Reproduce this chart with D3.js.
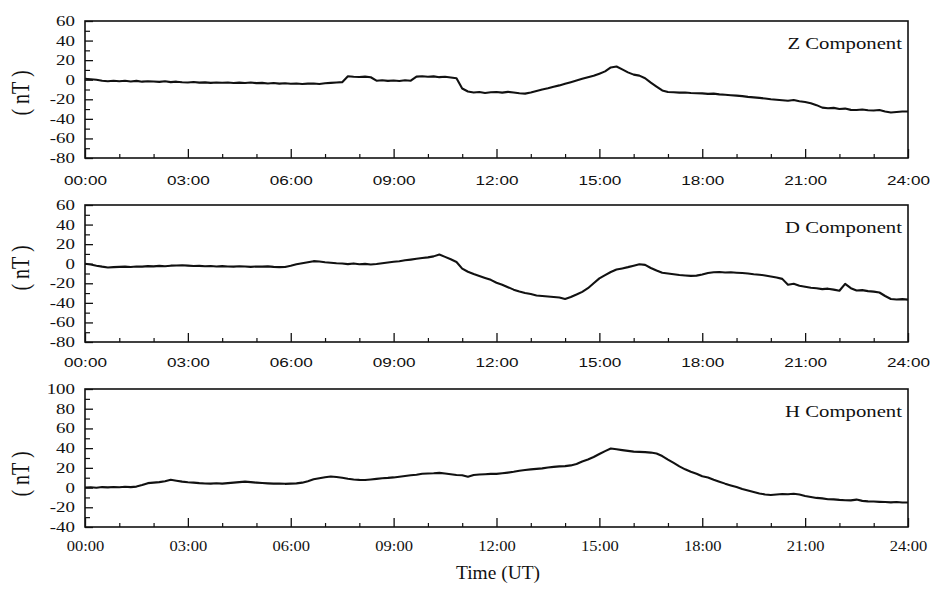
<!DOCTYPE html>
<html>
<head>
<meta charset="utf-8">
<script src="https://cdn.jsdelivr.net/npm/d3@7"></script>
<style>
  html, body { margin: 0; padding: 0; background: #fff; }
  svg { display: block; }
</style>
</head>
<body>
<svg id="chart" width="934" height="590"></svg>
<script>
// ---------- DATA (10-minute samples, 00:00 .. 24:00) ----------
const sampleHours = d3.range(0, 145).map(i => i / 6);

const zValues = [
  1, 0.5, 0, -1, -1.5, -1,
  -1.5, -1, -1.8, -1.2, -2, -1.5,
  -1.8, -2.2, -1.6, -2.5, -2, -2.6,
  -2.8, -2.4, -3, -2.7, -3.2, -2.8,
  -3.1, -2.9, -3.4, -3, -3.3, -2.9,
  -3.5, -3.2, -3.8, -3.4, -4, -3.6,
  -4.2, -3.9, -4.4, -4, -3.8, -4.3,
  -3.6, -3.2, -2.8, -2.5, 3.5, 3,
  2.8, 3.2, 2.5, -1, -0.5, -1.2,
  -0.8, -1.3, -0.6, -1, 3.2, 3.5,
  3, 3.4, 2.6, 3, 2.2, 1.5,
  -9, -12, -13, -12.5, -13.5, -12.8,
  -12.6, -13.2, -12.4, -13, -13.8, -14.2,
  -13, -11.5, -10, -8.8, -7.2, -5.8,
  -4.2, -2.5, -0.8, 1, 2.5, 4,
  6.2, 8.5, 12.5, 13.5, 10.5, 7.5,
  5.2, 4.2, 1.5, -3, -7, -11,
  -12.5, -12.8, -13.2, -13, -13.5, -13.8,
  -14, -14.5, -14.2, -15, -15.3, -15.8,
  -16.3, -16.8, -17.5, -18, -18.6, -19.2,
  -20, -20.5, -21, -21.5, -20.8, -22,
  -22.7, -24, -26, -28.5, -29.2, -28.8,
  -30, -29.5, -30.8, -31, -30.5, -31.2,
  -31.4, -31, -32.5, -33.5, -33, -32.5,
  -32.5
];

const dValues = [
  0, -0.8, -2, -3, -3.8, -3.5,
  -3.2, -3, -3.4, -2.8, -3, -2.5,
  -2.7, -2.2, -2.6, -2, -1.8, -1.5,
  -2, -2.4, -2.2, -2.6, -2.3, -2.8,
  -2.5, -2.8, -3, -2.6, -2.9, -3.2,
  -2.8, -3, -2.7, -3.2, -3.5, -3.3,
  -2, -0.5, 0.5, 1.5, 2.6, 2.2,
  1.5, 1, 0.5, 0.2, -0.4, 0.3,
  -0.5, -0.2, -0.8, -0.3, 0.5, 1.2,
  2, 2.5, 3.5, 4.2, 5, 5.8,
  6.5, 7.5, 9.4, 7, 4.5, 1.8,
  -5, -8.2, -10.5, -12.5, -14.5, -16.5,
  -19.5, -21.5, -24, -26.5, -28.5, -30,
  -31, -32.5, -33, -33.5, -34, -34.5,
  -36, -34, -31.5, -28.8, -25, -20,
  -15, -11.7, -8.5, -6, -4.8, -3.5,
  -2, -0.5, -1.2, -4.4, -7, -9.3,
  -10, -10.8, -11.5, -12, -12.4, -12.2,
  -11, -9.5, -8.7, -8.5, -9, -8.8,
  -9.2, -9.5, -10, -10.7, -11.2, -12,
  -13, -14, -15.5, -21.5, -20.5, -22.5,
  -23.5, -24.5, -25, -26, -25.5, -26.5,
  -27.6, -20.6, -25, -27.4, -27, -28,
  -28.5, -29.4, -33, -36, -36.5, -36.2,
  -36.7
];

const hValues = [
  0, 0.3, -0.2, 0.5, 0.2, 0.6,
  0.3, 0.8, 0.5, 1, 2.5, 4.5,
  5, 5.5, 6.5, 7.9, 7, 6,
  5.4, 5, 4.5, 4.2, 4, 4.4,
  4, 4.5, 5, 5.5, 6, 5.5,
  5, 4.6, 4.3, 4, 4.2, 3.8,
  4, 4.3, 5, 6.5, 8.4, 9.5,
  10.5, 11.3, 10.8, 10, 9, 8.2,
  7.8, 7.7, 8.2, 8.8, 9.5, 9.8,
  10.3, 11, 11.8, 12.5, 13, 14,
  14.3, 14.5, 14.9, 14.2, 13.5, 12.8,
  12.5, 11, 12.8, 13.2, 13.5, 13.9,
  13.9, 14.5, 15.2, 16, 17, 17.8,
  18.5, 19, 19.5, 20.4, 21, 21.5,
  21.8, 22.5, 24, 26.5, 28.5, 31,
  34, 37, 39.6, 38.8, 38, 37.2,
  36.5, 36.2, 36, 35.5, 34.5, 32,
  28.4, 25, 21.5, 18.5, 16, 14,
  11.5, 10.3, 8, 6, 4, 2.2,
  0.5, -1.5, -3, -4.5, -6, -7,
  -7.5, -7, -6.5, -6.8, -6.2, -7,
  -8.5, -9.5, -10.5, -11, -11.8, -12,
  -12.5, -12.8, -13, -12.2, -13.5, -14,
  -14.2, -14.5, -14.7, -15, -14.6, -15.2,
  -15.2
];

const majorHours = [0, 3, 6, 9, 12, 15, 18, 21, 24];
const timeLabels = ["00:00", "03:00", "06:00", "09:00", "12:00", "15:00", "18:00", "21:00", "24:00"];
const minorHours = d3.range(0, 25).filter(h => h % 3 !== 0);

const panelNames = ["Z Component", "D Component", "H Component"];
const zTicks = [60, 40, 20, 0, -20, -40, -60, -80];
const dTicks = [60, 40, 20, 0, -20, -40, -60, -80];
const hTicks = [100, 80, 60, 40, 20, 0, -20, -40];
const unitLabel = "( nT )";
const xTitle = "Time (UT)";

// ---------- LAYOUT ----------
const svg = d3.select("#chart");
const left = 85, right = 908;
const x = d3.scaleLinear().domain([0, 24]).range([left, right]);

const panels = [
  { name: panelNames[0], values: zValues, ticks: zTicks, domain: [-80, 60], top: 21, bottom: 158,
    unitY: 93, labelFont: "'Liberation Sans', Arial, sans-serif", labelSize: 13, labelScale: 1.32, labelPad: 27 },
  { name: panelNames[1], values: dValues, ticks: dTicks, domain: [-80, 60], top: 205, bottom: 342,
    unitY: 268, labelFont: "'Liberation Sans', Arial, sans-serif", labelSize: 13, labelScale: 1.32, labelPad: 25 },
  { name: panelNames[2], values: hValues, ticks: hTicks, domain: [-40, 100], top: 389, bottom: 527,
    unitY: 474, labelFont: "'Liberation Serif', 'Times New Roman', serif", labelSize: 15, labelScale: 1.1, labelPad: 24 }
];

const serif = "'Liberation Serif', 'Times New Roman', serif";

panels.forEach(p => {
  const y = d3.scaleLinear().domain(p.domain).range([p.bottom, p.top]);
  const g = svg.append("g");

  // data line
  const line = d3.line()
    .x((d, i) => x(sampleHours[i]))
    .y(d => y(d));
  g.append("path")
    .datum(p.values)
    .attr("d", line)
    .attr("fill", "none")
    .attr("stroke", "#111")
    .attr("stroke-width", 2.1)
    .attr("stroke-linejoin", "round");

  // minor x ticks
  g.append("g")
    .attr("transform", `translate(0,${p.bottom})`)
    .call(d3.axisBottom(x).tickValues(minorHours).tickSize(-4).tickFormat(""))
    .call(a => a.select(".domain").remove())
    .call(a => a.selectAll("line").attr("stroke", "#111").attr("stroke-width", 1.2));

  // major x ticks + labels
  const labelPadding = p.labelPad - 0.71 * p.labelSize;
  g.append("g")
    .attr("transform", `translate(0,${p.bottom})`)
    .call(d3.axisBottom(x).tickValues(majorHours).tickSize(-9).tickPadding(labelPadding)
      .tickFormat((d, i) => timeLabels[i]))
    .call(a => a.select(".domain").remove())
    .call(a => a.selectAll("line").attr("stroke", "#111").attr("stroke-width", 1.3))
    .call(a => a.selectAll("text")
      .attr("fill", "#111")
      .style("font-family", p.labelFont)
      .style("font-size", p.labelSize + "px")
      .attr("transform", `scale(${p.labelScale},1)`));

  // minor y ticks
  const minorY = d3.range(p.domain[0], p.domain[1] + 1, 10).filter(v => v % 20 !== 0);
  g.append("g")
    .attr("transform", `translate(${left},0)`)
    .call(d3.axisLeft(y).tickValues(minorY).tickSize(-5).tickFormat(""))
    .call(a => a.select(".domain").remove())
    .call(a => a.selectAll("line").attr("stroke", "#111").attr("stroke-width", 1.2));

  // major y ticks + labels
  const yScaleX = 1.35;
  g.append("g")
    .attr("transform", `translate(${left},0)`)
    .call(d3.axisLeft(y).tickValues(p.ticks).tickSize(-8).tickPadding(10 / yScaleX)
      .tickFormat(d => String(d)))
    .call(a => a.select(".domain").remove())
    .call(a => a.selectAll("line").attr("stroke", "#111").attr("stroke-width", 1.3))
    .call(a => a.selectAll("text")
      .attr("fill", "#111")
      .style("font-family", serif)
      .style("font-size", "14px")
      .attr("transform", `scale(${yScaleX},1)`));

  // frame
  g.append("rect")
    .attr("x", left).attr("y", p.top)
    .attr("width", right - left).attr("height", p.bottom - p.top)
    .attr("fill", "none").attr("stroke", "#111").attr("stroke-width", 1.6);

  // component label
  g.append("text")
    .attr("transform", `translate(${right - 6},${p.top + 28}) scale(1.22,1)`)
    .attr("text-anchor", "end")
    .style("font-family", serif)
    .style("font-size", "17px")
    .attr("fill", "#111")
    .text(p.name);

  // unit label
  g.append("text")
    .attr("transform", `translate(29,${p.unitY}) rotate(-90) scale(1,1.25)`)
    .attr("text-anchor", "middle")
    .style("font-family", serif)
    .style("font-size", "20px")
    .attr("fill", "#111")
    .text(unitLabel);
});

// x title
svg.append("text")
  .attr("transform", `translate(498,579) scale(1.08,1)`)
  .attr("text-anchor", "middle")
  .style("font-family", serif)
  .style("font-size", "18px")
  .attr("fill", "#111")
  .text(xTitle);
</script>
</body>
</html>
